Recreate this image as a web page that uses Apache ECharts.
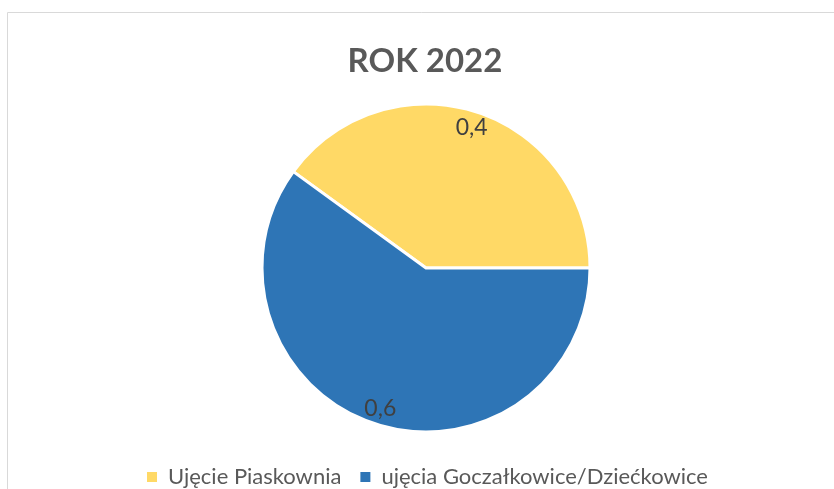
<!DOCTYPE html>
<html>
<head>
<meta charset="utf-8">
<script src="https://cdn.jsdelivr.net/npm/echarts@6/dist/echarts.min.js"></script>
<style>
  html, body { margin: 0; padding: 0; background: #fff; }
  #chart { width: 834px; height: 489px; }
</style>
</head>
<body>
<div id="chart"></div>
<script>
  // dane wykresu
  var categories = ['Ujęcie Piaskownia', 'ujęcia Goczałkowice/Dziećkowice'];
  var values = [0.4, 0.6];
  var colors = ['#FFD966', '#2E75B6'];
  var labels = ['0,4', '0,6'];

  var chart = echarts.init(document.getElementById('chart'));

  var pieData = categories.map(function (name, i) {
    return { name: name, value: values[i], itemStyle: { color: colors[i] } };
  });
  // niewidoczny pierścień - tylko do położenia etykiet przy krawędzi
  var labelData = categories.map(function (name, i) {
    return { name: name, value: values[i], label: { formatter: labels[i] } };
  });

  var option = {
    animation: false,
    textStyle: { fontFamily: 'Lato' },
    title: {
      text: 'ROK 2022',
      left: 420,
      textAlign: 'center',
      top: 40,
      textStyle: { fontFamily: 'Lato', fontSize: 33, fontWeight: 'bold', color: '#595959' }
    },
    graphic: [{
      type: 'rect',
      shape: { x: 7.5, y: 12.5, width: 900, height: 600 },
      style: { fill: 'none', stroke: '#d9d9d9', lineWidth: 1 },
      silent: true
    }],
    legend: {
      data: categories,
      left: 145,
      top: 465,
      padding: 0,
      icon: 'rect',
      itemWidth: 12,
      itemHeight: 12,
      itemGap: 17,
      textStyle: { fontFamily: 'Lato', fontSize: 22, lineHeight: 24, color: '#595959', padding: [0, 0, 0, 5] }
    },
    series: [
      {
        type: 'pie',
        center: [426, 268],
        radius: [0, 164],
        startAngle: 144,
        clockwise: true,
        data: pieData,
        itemStyle: { borderColor: '#fff', borderWidth: 3 },
        label: { show: false },
        labelLine: { show: false },
        silent: true
      },
      {
        type: 'pie',
        center: [426, 268],
        radius: [126, 164],
        startAngle: 144,
        clockwise: true,
        data: labelData,
        itemStyle: { color: 'transparent', borderWidth: 0 },
        label: {
          show: true,
          position: 'inside',
          fontFamily: 'Lato',
          fontSize: 23,
          color: '#404040'
        },
        labelLine: { show: false },
        silent: true
      }
    ]
  };

  chart.setOption(option);
</script>
</body>
</html>
